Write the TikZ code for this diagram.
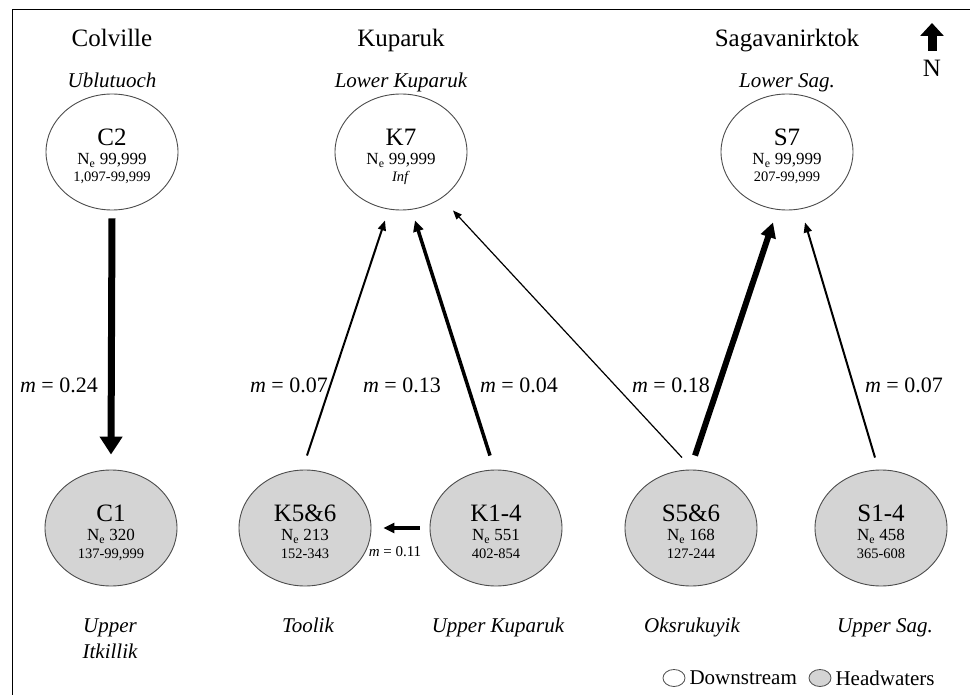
\documentclass[tikz,border=0pt]{standalone}
\usepackage{fontspec}
\setmainfont{Liberation Serif}
\usetikzlibrary{arrows.meta,shapes.geometric,calc}
\begin{document}
\begin{tikzpicture}[x=1pt,y=-1pt,
 pop/.style={draw=black!70, line width=0.9pt, ellipse, minimum width=132pt, minimum height=116pt, inner sep=0pt},
 down/.style={pop, fill=white},
 head/.style={pop, fill=black!17},
 ttl/.style={font=\fontsize{25}{28}\selectfont, anchor=base},
 sub/.style={font=\fontsize{21}{23}\selectfont\itshape, anchor=base},
 lab/.style={font=\fontsize{25}{28}\selectfont, anchor=base},
 ne/.style={font=\fontsize{17}{18}\selectfont, anchor=base},
 rng/.style={font=\fontsize{14.5}{16}\selectfont, anchor=base},
 mlab/.style={font=\fontsize{22}{24}\selectfont},
 leg/.style={font=\fontsize{21}{23}\selectfont, anchor=west},
 a1/.style={line width=1.2pt, -{Triangle[length=9pt,width=7pt]}},
 a2/.style={line width=2pt, -{Triangle[length=10pt,width=8pt]}},
 a4/.style={line width=3.5pt, -{Triangle[length=11pt,width=10pt]}},
 a6/.style={line width=6pt, -{Triangle[length=15pt,width=15pt]}},
 a7/.style={line width=7pt, -{Triangle[length=18pt,width=22pt]}}
]
\useasboundingbox (0,0) rectangle (970,695);
\draw[line width=1pt] (12,695) -- (12,10) -- (970,10);

% titles
\node[ttl] (tC) at (112,47) {Colville};
\node[ttl] (tK) at (401,47) {Kuparuk};
\node[ttl] (tS) at (787,47) {Sagavanirktok};

% north arrow
\coordinate (nb) at (932,51);
\coordinate (nt) at (932,23);
\draw[line width=9pt, -{Triangle[length=13pt,width=23pt]}] (nb) -- (nt);
\node[ttl] (nN) at (932,77) {N};

% top populations
\node[sub] (sC2) at (112,88) {Ublutuoch};
\node[sub] (sK7) at (401,88) {Lower Kuparuk};
\node[sub] (sS7) at (787,88) {Lower Sag.};

\node[down] (C2) at (112,152) {};
\node[lab] (C2l) at (112,145.5) {C2};
\node[ne] (C2n) at (112,164.5) {N\textsubscript{e} 99,999};
\node[rng] (C2r) at (112,182) {1,097-99,999};

\node[down] (K7) at (401,152) {};
\node[lab] (K7l) at (401,145.5) {K7};
\node[ne] (K7n) at (401,164.5) {N\textsubscript{e} 99,999};
\node[rng] (K7r) at (401,182) {\textit{Inf}};

\node[down] (S7) at (787,152) {};
\node[lab] (S7l) at (787,145.5) {S7};
\node[ne] (S7n) at (787,164.5) {N\textsubscript{e} 99,999};
\node[rng] (S7r) at (787,182) {207-99,999};

% bottom populations
\node[head] (C1) at (111,528) {};
\node[lab] (C1l) at (111,521.5) {C1};
\node[ne] (C1n) at (111,540.5) {N\textsubscript{e} 320};
\node[rng] (C1r) at (111,558) {137-99,999};

\node[head] (K56) at (305,528) {};
\node[lab] (K56l) at (305,521.5) {K5\&6};
\node[ne] (K56n) at (305,540.5) {N\textsubscript{e} 213};
\node[rng] (K56r) at (305,558) {152-343};

\node[head] (K14) at (496,528) {};
\node[lab] (K14l) at (496,521.5) {K1-4};
\node[ne] (K14n) at (496,540.5) {N\textsubscript{e} 551};
\node[rng] (K14r) at (496,558) {402-854};

\node[head] (S56) at (691,528) {};
\node[lab] (S56l) at (691,521.5) {S5\&6};
\node[ne] (S56n) at (691,540.5) {N\textsubscript{e} 168};
\node[rng] (S56r) at (691,558) {127-244};

\node[head] (S14) at (881,528) {};
\node[lab] (S14l) at (881,521.5) {S1-4};
\node[ne] (S14n) at (881,540.5) {N\textsubscript{e} 458};
\node[rng] (S14r) at (881,558) {365-608};

\node[sub] (sC1a) at (110,632) {Upper};
\node[sub] (sC1b) at (110,658) {Itkillik};
\node[sub] (sK56) at (308,632) {Toolik};
\node[sub] (sK14) at (498,632) {Upper Kuparuk};
\node[sub] (sS56) at (692,632) {Oksrukuyik};
\node[sub] (sS14) at (885,632) {Upper Sag.};

% migration arrows
\draw[a7] ([yshift=-8pt]C2.south) -- ([yshift=15pt]C1.north);
\draw[a2] ([xshift=2pt,yshift=14pt]K56.north) -- ([xshift=-16pt,yshift=-10pt]K7.south);
\draw[a4] ([xshift=-6pt,yshift=14pt]K14.north) -- ([xshift=14pt,yshift=-10pt]K7.south);
\draw[a1] ([xshift=-9pt,yshift=12pt]S56.north) -- ([xshift=52pt]K7.south);
\draw[a6] ([xshift=4pt,yshift=14pt]S56.north) -- ([xshift=-14pt,yshift=-12pt]S7.south);
\draw[a2] ([xshift=-6pt,yshift=12pt]S14.north) -- ([xshift=18pt,yshift=-12pt]S7.south);
\draw[a4] ([xshift=-10pt]K14.west) -- ([xshift=12pt]K56.east);

% migration labels
\node[mlab] (m1) at (59,385) {\textit{m} = 0.24};
\node[mlab] (m2) at (289,385) {\textit{m} = 0.07};
\node[mlab] (m3) at (402,385) {\textit{m} = 0.13};
\node[mlab] (m4) at (519,385) {\textit{m} = 0.04};
\node[mlab] (m5) at (671,385) {\textit{m} = 0.18};
\node[mlab] (m6) at (904,385) {\textit{m} = 0.07};
\node[font=\fontsize{15}{16}\selectfont] (m7) at (395,552) {\textit{m} = 0.11};

% legend
\node[draw=black!70, line width=0.8pt, ellipse, fill=white, minimum width=22pt, minimum height=17pt, inner sep=0pt] (lg1) at (674,678) {};
\node[leg] (lg1t) at (686,678) {Downstream};
\node[draw=black!70, line width=0.8pt, ellipse, fill=black!17, minimum width=22pt, minimum height=17pt, inner sep=0pt] (lg2) at (820,678) {};
\node[leg] (lg2t) at (832,678) {Headwaters};
\end{tikzpicture}
\end{document}
